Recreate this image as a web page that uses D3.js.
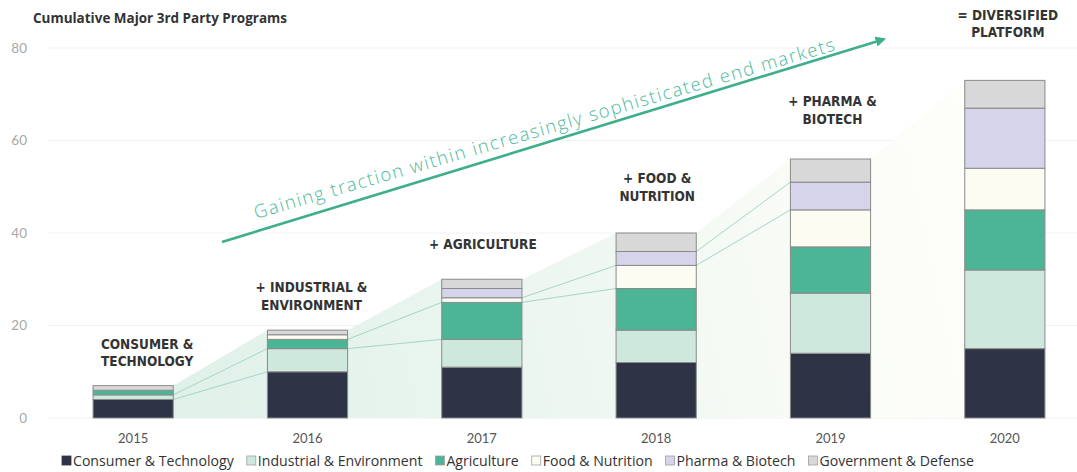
<!DOCTYPE html>
<html><head><meta charset="utf-8">
<script src="https://cdn.jsdelivr.net/npm/d3@7"></script>
<style>
html,body{margin:0;padding:0;background:#fff;}
svg{display:block;}
</style></head>
<body>
<svg id="chart" width="1077" height="472"></svg>
<script>
const title = "Cumulative Major 3rd Party Programs";
const years = ["2015","2016","2017","2018","2019","2020"];
const categories = ["Consumer & Technology","Industrial & Environment","Agriculture","Food & Nutrition","Pharma & Biotech","Government & Defense"];
const consumer   = [4, 10, 11, 12, 14, 15];
const industrial = [1, 5, 6, 7, 13, 17];
const agriculture= [1, 2, 8, 9, 10, 13];
const food       = [0, 1, 1, 5, 8, 9];
const pharma     = [0, 0, 2, 3, 6, 13];
const government = [1, 1, 2, 4, 5, 6];
const yTicks = [0, 20, 40, 60, 80];
const stageLabels = [["CONSUMER &","TECHNOLOGY"],["+ INDUSTRIAL &","ENVIRONMENT"],["+ AGRICULTURE"],["+ FOOD &","NUTRITION"],["+ PHARMA &","BIOTECH"],["= DIVERSIFIED","PLATFORM"]];
const arrowText = "Gaining traction within increasingly sophisticated end markets";

const colors = ["#2e3446","#cfe8de","#4cb595","#fdfcf2","#d5d4ea","#d8d8d8"];
const series = [consumer, industrial, agriculture, food, pharma, government];

const svg = d3.select("#chart");
const W = 1077, H = 472;

function fit(sel, target) {
  const fs = parseFloat(sel.attr("font-size"));
  const w = sel.node().getComputedTextLength();
  sel.attr("font-size", (fs * target / w).toFixed(2));
}
function fitSpacing(sel, target) {
  const w = sel.node().getComputedTextLength();
  const n = sel.text().length;
  sel.attr("letter-spacing", ((target - w) / (n - 1)).toFixed(3));
}

const x = d3.scaleBand().domain(years).range([46, 1092]).paddingInner(0.54).paddingOuter(0.27);
const y = d3.scaleLinear().domain([0, 80]).range([418, 48]);

const rows = years.map((yr, i) => {
  const o = {year: yr};
  categories.forEach((c, k) => o[c] = series[k][i]);
  return o;
});
const stack = d3.stack().keys(categories)(rows);
const totals = years.map((yr, i) => d3.sum(series, s => s[i]));

const defs = svg.append("defs");
const grad = defs.append("linearGradient").attr("id","bg").attr("gradientUnits","userSpaceOnUse")
  .attr("x1", 180).attr("y1", 380).attr("x2", 1000).attr("y2", 200);
grad.append("stop").attr("offset","0%").attr("stop-color","#e0f1ea");
grad.append("stop").attr("offset","45%").attr("stop-color","#edf6f1");
grad.append("stop").attr("offset","78%").attr("stop-color","#fafcf6");
grad.append("stop").attr("offset","100%").attr("stop-color","#fefefa");

svg.append("g").selectAll("line").data(yTicks).join("line")
  .attr("x1", 48).attr("x2", W).attr("y1", d => y(d)).attr("y2", d => y(d))
  .attr("stroke", "#f2f2f2").attr("stroke-width", 1);

svg.append("g").selectAll("text").data(yTicks).join("text")
  .attr("x", 27).attr("y", d => y(d)).attr("dy", "0.35em").attr("text-anchor","end")
  .attr("font-family","Lato, sans-serif").attr("font-size", 13.5).attr("fill","#a8a8a8")
  .text(d => d);

const areaPts = [];
years.forEach((yr, i) => {
  if (i === 0) { areaPts.push([x(yr)+x.bandwidth(), totals[i]]); return; }
  areaPts.push([x(yr), totals[i]]);
  areaPts.push([x(yr)+x.bandwidth(), totals[i]]);
});
const area = d3.area().x(d => d[0]).y0(y(0)).y1(d => y(d[1]));
svg.append("path").datum(areaPts).attr("d", area).attr("fill","url(#bg)");

const conn = svg.append("g");
for (let i = 1; i < years.length - 1; i++) {
  [i-1, i].forEach(k => {
    conn.append("line")
      .attr("x1", x(years[i-1]) + x.bandwidth()).attr("y1", y(stack[k][i-1][1]))
      .attr("x2", x(years[i])).attr("y2", y(stack[k][i][1]))
      .attr("stroke", "#a6d6c6").attr("stroke-width", 1);
  });
}

svg.append("g").selectAll("g").data(stack).join("g")
  .attr("fill", (d, k) => colors[k])
  .selectAll("rect").data(d => d).join("rect")
  .attr("x", d => x(d.data.year)).attr("width", x.bandwidth())
  .attr("y", d => y(d[1])).attr("height", d => y(d[0]) - y(d[1]))
  .attr("stroke", "#8a8a8a").attr("stroke-width", 1);

svg.append("g").selectAll("text").data(years).join("text")
  .attr("x", d => x(d) + x.bandwidth()/2).attr("y", 438).attr("dy","0.35em")
  .attr("text-anchor","middle").attr("font-family","Lato, sans-serif").attr("font-size", 13)
  .attr("fill","#555").text(d => d);

const labelOffsets = [24, 25, 35, 37, 40, 48];
const labelDx = [14, 4, 1, 1, 2, 3];
stageLabels.forEach((lines, i) => {
  const cx = x(years[i]) + x.bandwidth()/2 + labelDx[i];
  const lastY = y(totals[i]) - labelOffsets[i];
  lines.forEach((t, j) => {
    svg.append("text").attr("x", cx).attr("y", lastY - (lines.length-1-j)*17.5).attr("dy","0.35em")
      .attr("text-anchor","middle").attr("font-family","'DejaVu Sans Condensed', 'DejaVu Sans', sans-serif")
      .attr("font-weight","bold").attr("font-size", 13.5).attr("fill","#333")
      .text(t);
  });
});

const ax1 = 222, ay1 = 242, ax2 = 888, ay2 = 38;
defs.append("marker").attr("id","ah").attr("viewBox","0 0 10 10").attr("refX",8).attr("refY",5)
  .attr("markerWidth",4).attr("markerHeight",4).attr("orient","auto")
  .append("path").attr("d","M0,0 L10,5 L0,10 z").attr("fill","#3fae8c");
svg.append("line").attr("x1",ax1).attr("y1",ay1).attr("x2",ax2-4).attr("y2",ay2+1.2)
  .attr("stroke","#3fae8c").attr("stroke-width",2.6).attr("marker-end","url(#ah)");
const ang = Math.atan2(ay2-ay1, ax2-ax1) * 180/Math.PI;
const at = svg.append("text").attr("transform", `translate(256,219) rotate(${ang + 0.8})`)
  .attr("font-family","'Open Sans', sans-serif").attr("font-size", 18.5).attr("fill","#4dbb9b")
  .attr("font-weight", 300)
  .text(arrowText);
fitSpacing(at, 604);

const tt = svg.append("text").attr("x", 33).attr("y", 18).attr("dy","0.35em")
  .attr("font-family","'Open Sans', sans-serif").attr("font-weight","bold").attr("font-size",13)
  .attr("fill","#333").text(title);
fit(tt, 254);

const leg = svg.append("g");
const legTexts = [];
let lx = 62;
categories.forEach((c, k) => {
  const r = leg.append("rect").attr("x", lx).attr("y", 456).attr("width", 9).attr("height", 9)
    .attr("fill", colors[k]).attr("stroke", k === 0 ? colors[0] : "#a0a0a0").attr("stroke-width", 0.8);
  const t = leg.append("text").attr("x", lx + 11).attr("y", 461).attr("dy","0.35em")
    .attr("font-family","'Open Sans', sans-serif").attr("font-size", 13).attr("fill","#333").text(c);
  lx += 11 + t.node().getComputedTextLength() + 13;
  legTexts.push([r, t]);
});
const span = lx - 13 - 62;
const kf = 923 / span;
lx = 62;
legTexts.forEach(([r, t]) => {
  t.attr("font-size", (13 * kf).toFixed(2));
  r.attr("x", lx);
  t.attr("x", lx + 11);
  lx += 11 + t.node().getComputedTextLength() + 13;
});
</script>
</body></html>
